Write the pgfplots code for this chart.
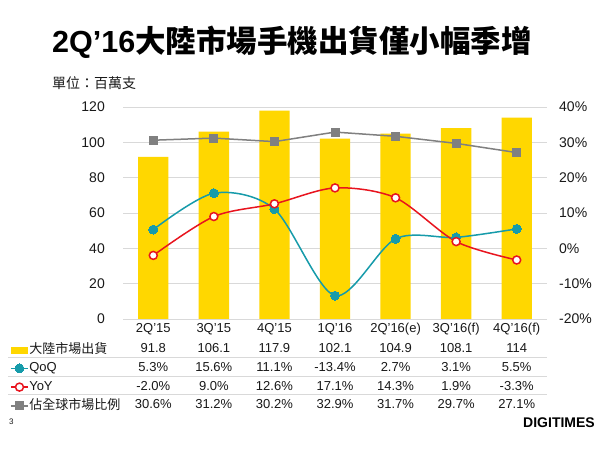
\documentclass[border=0pt]{standalone}
\usepackage{fontspec}
\setmainfont{Liberation Sans}
\newfontfamily\cjk{Noto Sans CJK TC}
\usepackage{pgfplots}
\pgfplotsset{compat=1.18}
\definecolor{barY}{RGB}{255,215,0}
\definecolor{tealL}{RGB}{22,155,170}
\definecolor{redL}{RGB}{232,20,30}
\definecolor{grayL}{RGB}{128,128,128}
\definecolor{gridc}{RGB}{217,217,217}
\definecolor{txt}{RGB}{25,25,25}
\begin{document}
\begin{tikzpicture}[x=1pt,y=1pt]
\path[use as bounding box, fill=white] (0,0) rectangle (600,450);
% title
\node[anchor=west, inner sep=0pt, text=black] at (52,408) {\fontsize{30.5}{36}\selectfont\bfseries 2Q’16{\cjk 大陸市場手機出貨僅小幅季增}};
\node[anchor=west, inner sep=0pt, text=txt] at (52,367) {\fontsize{14}{16}\selectfont\cjk 單位：百萬支};
% left axis with bars
\begin{axis}[
  at={(123pt,131pt)}, anchor=south west, scale only axis,
  width=424pt, height=212pt,
  xmin=-0.5, xmax=6.5, ymin=0, ymax=120,
  xtick={0,...,6},
  xticklabels={2Q'15,3Q'15,4Q'15,1Q'16,2Q'16(e),3Q'16(f),4Q'16(f)},
  ytick={0,20,...,120},
  ymajorgrids, grid style={gridc, line width=0.9pt},
  axis line style={draw=none}, major tick length=0pt,
  /pgf/number format/assume math mode=true,
  xticklabel style={font=\fontsize{13}{15}\selectfont, text=txt, inner ysep=0pt, yshift=-4pt},
  yticklabel style={font=\fontsize{14}{16}\selectfont, text=txt, inner xsep=0pt, xshift=-18pt},
]
\addplot[ybar, fill=barY, draw=none, bar width=30.3pt] coordinates {
  (0,91.8) (1,106.1) (2,117.9) (3,102.1) (4,104.9) (5,108.1) (6,114)};
\end{axis}
% right axis with lines
\begin{axis}[
  at={(123pt,131pt)}, anchor=south west, scale only axis,
  width=424pt, height=212pt,
  xmin=-0.5, xmax=6.5, ymin=-20, ymax=40,
  xtick=\empty, ytick={-20,-10,...,40},
  yticklabel pos=right,
  axis line style={draw=none}, major tick length=0pt,
  /pgf/number format/assume math mode=true,
  yticklabel={\pgfmathprintnumber{\tick}\%},
  yticklabel style={font=\fontsize{14}{16}\selectfont, text=txt, anchor=west, inner xsep=0pt, xshift=12pt},
  clip=false,
  legend cell align=left,
  legend style={at={(axis description cs:-0.2665,-0.1132)}, anchor=north west,
    draw=none, fill=none, inner sep=0pt, row sep=5.7pt,
    font=\fontsize{13}{15}\selectfont, text=txt,
    nodes={inner xsep=0.5pt, inner ysep=0pt, text height=10pt, text depth=3pt}},
]
\addlegendimage{legend image code/.code={\fill[barY] (0.5pt,-3pt) rectangle (16pt,3pt);}}
\addlegendentry{\cjk 大陸市場出貨}
\addplot[smooth, color=tealL, line width=1.5pt, mark=*, mark size=4.5pt,
  mark options={fill=tealL, draw=tealL, line width=0pt}] coordinates {
  (0,5.3) (1,15.6) (2,11.1) (3,-13.4) (4,2.7) (5,3.1) (6,5.5)};
\addlegendentry{QoQ}
\addplot[smooth, color=redL, line width=1.5pt, mark=*, mark size=4pt,
  mark options={fill=white, draw=redL, line width=1.5pt}] coordinates {
  (0,-2.0) (1,9.0) (2,12.6) (3,17.1) (4,14.3) (5,1.9) (6,-3.3)};
\addlegendentry{YoY}
\addplot[color=grayL, line width=1.5pt, mark=square*, mark size=4pt,
  mark options={fill=grayL, draw=grayL, line width=0pt}] coordinates {
  (0,30.6) (1,31.2) (2,30.2) (3,32.9) (4,31.7) (5,29.7) (6,27.1)};
\addlegendentry{\cjk 佔全球市場比例}
\end{axis}
% table separators
\foreach \yy in {92.5,73.8,55.1} {\draw[gridc, line width=0.9pt] (8,\yy) -- (547,\yy);}
% table values
\begin{scope}[every node/.style={anchor=base, inner sep=0pt, text=txt, font=\fontsize{13}{15}\selectfont}]
\foreach \v [count=\i from 0] in {91.8,106.1,117.9,102.1,104.9,108.1,114}
  {\node at ({123+60.571*(\i+0.5)},97.2) {\v};}
\foreach \v [count=\i from 0] in {5.3\%,15.6\%,11.1\%,-13.4\%,2.7\%,3.1\%,5.5\%}
  {\node at ({123+60.571*(\i+0.5)},78.5) {\v};}
\foreach \v [count=\i from 0] in {-2.0\%,9.0\%,12.6\%,17.1\%,14.3\%,1.9\%,-3.3\%}
  {\node at ({123+60.571*(\i+0.5)},59.8) {\v};}
\foreach \v [count=\i from 0] in {30.6\%,31.2\%,30.2\%,32.9\%,31.7\%,29.7\%,27.1\%}
  {\node at ({123+60.571*(\i+0.5)},41.1) {\v};}
\end{scope}
% footer
\node[anchor=west, inner sep=0pt, text=txt] at (9,28) {\fontsize{8}{9}\selectfont 3};
\node[anchor=east, inner sep=0pt, text=black] at (595,27) {\fontsize{14}{16}\selectfont\bfseries DIGITIMES};
\end{tikzpicture}
\end{document}
